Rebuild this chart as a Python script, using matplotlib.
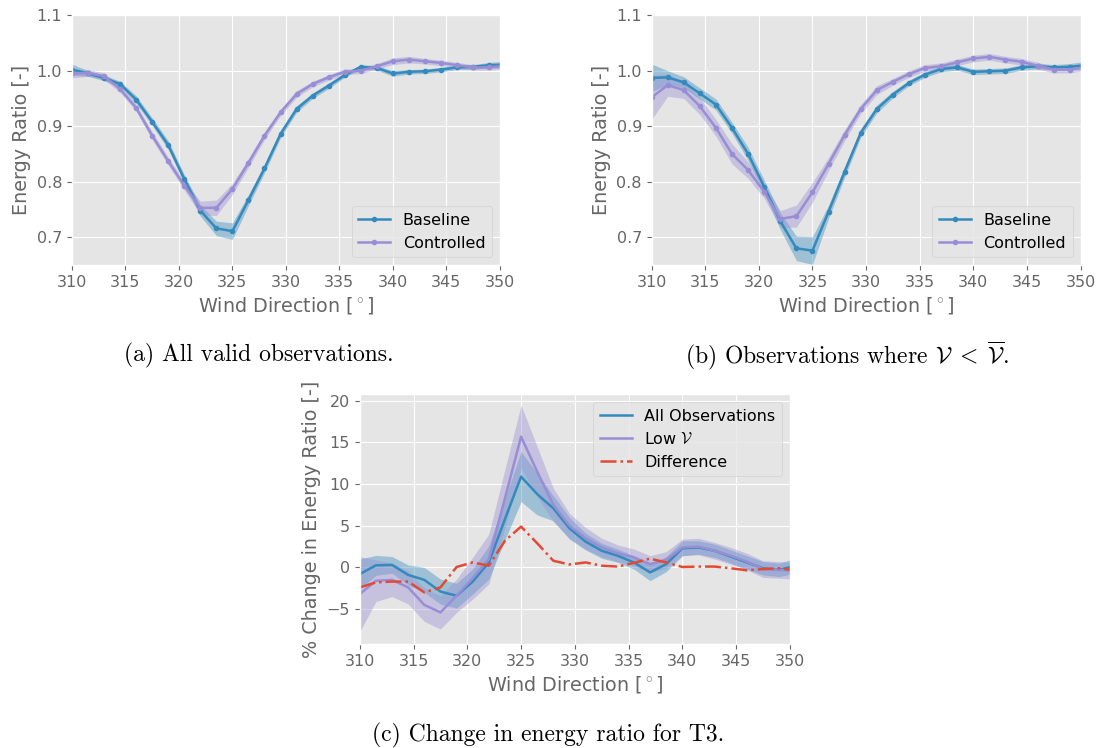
import numpy as np
import matplotlib
matplotlib.use('Agg')
import matplotlib.pyplot as plt

# === DADOS ===
direcao = np.arange(310, 351.5, 1.5)  # 310 ... 350.5

# (a) todas as observacoes
base_a = [1.002, 0.995, 0.987, 0.976, 0.948, 0.908, 0.866, 0.805, 0.748, 0.716,
          0.711, 0.767, 0.824, 0.886, 0.931, 0.955, 0.973, 0.992, 1.007, 1.005,
          0.995, 0.998, 0.999, 1.002, 1.006, 1.007, 1.010, 1.011]
base_a_err = [0.010, 0.005, 0.005, 0.005, 0.007, 0.007, 0.008, 0.008, 0.010, 0.013,
              0.015, 0.010, 0.008, 0.007, 0.006, 0.005, 0.005, 0.004, 0.004, 0.004,
              0.005, 0.004, 0.004, 0.004, 0.004, 0.004, 0.005, 0.006]
ctrl_a = [0.995, 0.996, 0.990, 0.967, 0.933, 0.883, 0.837, 0.793, 0.753, 0.753,
          0.787, 0.834, 0.883, 0.925, 0.958, 0.976, 0.988, 0.998, 1.000, 1.008,
          1.017, 1.020, 1.017, 1.014, 1.010, 1.006, 1.006, 1.009]
ctrl_a_err = [0.008, 0.006, 0.006, 0.006, 0.006, 0.007, 0.007, 0.008, 0.012, 0.014,
              0.010, 0.008, 0.007, 0.006, 0.006, 0.005, 0.005, 0.005, 0.005, 0.005,
              0.006, 0.006, 0.005, 0.005, 0.005, 0.005, 0.005, 0.005]

# (b) observacoes com V < media
base_b = [0.987, 0.988, 0.979, 0.959, 0.939, 0.897, 0.850, 0.791, 0.729, 0.680,
          0.676, 0.746, 0.818, 0.888, 0.931, 0.957, 0.978, 0.993, 1.003, 1.006,
          0.998, 0.999, 1.000, 1.006, 1.008, 1.006, 1.007, 1.010]
base_b_err = [0.025, 0.012, 0.010, 0.010, 0.010, 0.010, 0.012, 0.012, 0.015, 0.022,
              0.025, 0.012, 0.010, 0.008, 0.007, 0.006, 0.005, 0.005, 0.005, 0.005,
              0.005, 0.005, 0.005, 0.005, 0.005, 0.005, 0.006, 0.007]
ctrl_b = [0.952, 0.974, 0.965, 0.936, 0.897, 0.850, 0.821, 0.782, 0.733, 0.738,
          0.781, 0.832, 0.884, 0.931, 0.965, 0.980, 0.994, 1.005, 1.008, 1.015,
          1.022, 1.025, 1.020, 1.016, 1.009, 1.002, 1.002, 1.007]
ctrl_b_err = [0.040, 0.020, 0.015, 0.015, 0.015, 0.018, 0.015, 0.012, 0.015, 0.020,
              0.018, 0.012, 0.010, 0.008, 0.008, 0.006, 0.006, 0.006, 0.006, 0.006,
              0.006, 0.006, 0.006, 0.006, 0.006, 0.006, 0.006, 0.006]

# (c) variacao percentual
todas_c = [-0.8, 0.25, 0.3, -0.9, -1.5, -2.9, -3.4, -1.7, 0.6, 5.8,
           10.9, 8.8, 7.1, 4.7, 3.1, 2.0, 1.4, 0.6, -0.6, 0.4,
           2.3, 2.4, 2.0, 1.3, 0.6, -0.1, -0.3, 0.2]
todas_c_err = [1.8, 1.2, 1.0, 1.2, 1.5, 1.5, 1.5, 1.5, 2.0, 2.5,
               3.0, 2.5, 1.5, 1.3, 1.0, 0.9, 0.8, 0.8, 1.0, 0.9,
               0.9, 0.8, 0.8, 0.8, 0.8, 0.8, 0.8, 0.9]
baixo_c = [-3.2, -1.6, -1.5, -2.4, -4.5, -5.4, -3.4, -1.3, 1.0, 8.3,
           15.7, 11.5, 7.5, 5.0, 3.5, 2.4, 1.7, 1.2, 0.4, 0.9,
           2.4, 2.5, 2.0, 1.4, 0.7, -0.2, -0.3, -0.4]
baixo_c_err = [4.5, 2.5, 2.0, 2.0, 2.0, 2.0, 2.0, 2.5, 3.0, 3.5,
               3.8, 3.0, 2.0, 1.5, 1.3, 1.1, 1.0, 1.0, 1.0, 1.0,
               1.0, 1.0, 1.0, 1.0, 1.0, 1.0, 1.0, 1.0]
dif_c = [-2.4, -1.8, -1.7, -1.7, -3.0, -2.4, 0.05, 0.6, 0.2, 3.2,
         4.9, 2.9, 0.8, 0.35, 0.6, 0.2, 0.1, 0.55, 1.05, 0.6,
         0.05, 0.1, 0.1, -0.1, -0.35, -0.2, -0.1, -0.35]

AZUL = '#348ABD'
ROXO = '#988ED5'
VERMELHO = '#E24A33'
CINZA = '#666666'

# === ESTILO ===
plt.style.use('ggplot')
plt.rcParams['font.size'] = 11.5
plt.rcParams['mathtext.fontset'] = 'cm'
plt.rcParams['axes.labelcolor'] = CINZA
plt.rcParams['xtick.color'] = CINZA
plt.rcParams['ytick.color'] = CINZA

fig = plt.figure(figsize=(10.97, 7.48), dpi=100)
ax1 = fig.add_axes([0.0656, 0.6457, 0.390, 0.334])
ax2 = fig.add_axes([0.594, 0.6457, 0.391, 0.334])
ax3 = fig.add_axes([0.328, 0.139, 0.392, 0.334])


def painel_razao(ax, base, base_err, ctrl, ctrl_err):
    base = np.array(base)
    ctrl = np.array(ctrl)
    ax.fill_between(direcao, base - base_err, base + base_err, color=AZUL, alpha=0.4, lw=0)
    ax.fill_between(direcao, ctrl - ctrl_err, ctrl + ctrl_err, color=ROXO, alpha=0.4, lw=0)
    ax.plot(direcao, base, '.-', color=AZUL, lw=1.8, ms=6, label='Baseline')
    ax.plot(direcao, ctrl, '.-', color=ROXO, lw=1.8, ms=6, label='Controlled')
    ax.set_xlim(310, 350)
    ax.set_ylim(0.65, 1.1)
    ax.set_yticks([0.7, 0.8, 0.9, 1.0, 1.1])
    ax.set_xticks(np.arange(310, 351, 5))
    ax.set_ylabel('Energy Ratio [-]')
    ax.set_xlabel(r'Wind Direction [$^\circ$]')
    ax.legend(loc='lower right', fontsize=11.5)


painel_razao(ax1, base_a, base_a_err, ctrl_a, ctrl_a_err)
painel_razao(ax2, base_b, base_b_err, ctrl_b, ctrl_b_err)

# Grafico (c)
todas = np.array(todas_c)
baixo = np.array(baixo_c)
ax3.fill_between(direcao, todas - todas_c_err, todas + todas_c_err, color=AZUL, alpha=0.4, lw=0)
ax3.fill_between(direcao, baixo - baixo_c_err, baixo + baixo_c_err, color=ROXO, alpha=0.4, lw=0)
ax3.plot(direcao, todas, '-', color=AZUL, lw=1.8, label='All Observations')
ax3.plot(direcao, baixo, '-', color=ROXO, lw=1.8, label=r'Low $\mathcal{V}$')
ax3.plot(direcao, dif_c, '-.', color=VERMELHO, lw=1.8, label='Difference')
ax3.set_xlim(310, 350)
ax3.set_ylim(-9.2, 20.8)
ax3.set_xticks(np.arange(310, 351, 5))
ax3.set_yticks([-5, 0, 5, 10, 15, 20])
ax3.set_ylabel('% Change in Energy Ratio [-]')
ax3.set_xlabel(r'Wind Direction [$^\circ$]')
ax3.legend(loc='upper right', fontsize=11.5)

# Legendas das figuras
fs_cap = 17
fig.text(0.2355, 0.525, '(a) All valid observations.', ha='center', va='center',
         family='cmr10', fontsize=fs_cap)
fig.text(0.772, 0.525, r'(b) Observations where $\mathcal{V}\;<\;\overline{\mathcal{V}}$.',
         ha='center', va='center', family='cmr10', fontsize=fs_cap)
fig.text(0.5, 0.017, '(c) Change in energy ratio for T3.', ha='center', va='center',
         family='cmr10', fontsize=fs_cap)

fig.savefig('out.png', dpi=100, facecolor='white')
